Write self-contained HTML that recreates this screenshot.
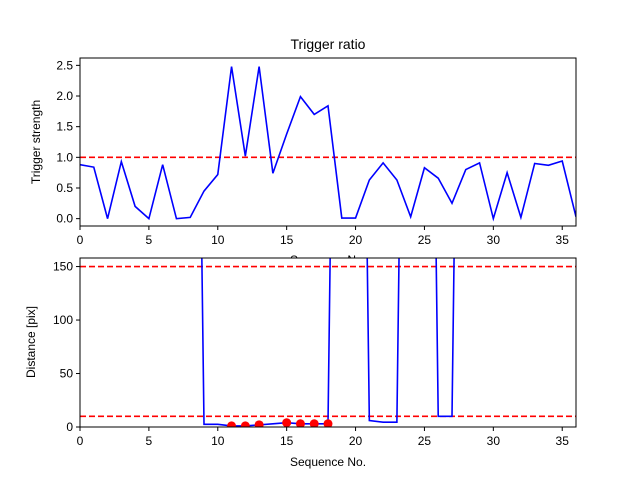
<!DOCTYPE html>
<html><head><meta charset="utf-8"><style>
body{margin:0;background:#fff;}
svg{display:block;font-family:"Liberation Sans","DejaVu Sans",sans-serif;}
</style></head><body>
<svg id="chart" width="640" height="480" xmlns="http://www.w3.org/2000/svg">
<defs><clipPath id="c1"><rect x="80" y="58" width="496" height="168"/></clipPath><clipPath id="c2"><rect x="80" y="258" width="496" height="169"/></clipPath></defs>
</svg>
<script>
const seqNo = [0,1,2,3,4,5,6,7,8,9,10,11,12,13,14,15,16,17,18,19,20,21,22,23,24,25,26,27,28,29,30,31,32,33,34,35,36];
const triggerStrength = [0.88,0.84,0.0,0.93,0.2,0.0,0.88,0.0,0.02,0.45,0.72,2.48,1.02,2.48,0.74,1.38,1.99,1.7,1.84,0.01,0.01,0.63,0.91,0.63,0.03,0.83,0.66,0.25,0.8,0.91,0.0,0.75,0.02,0.9,0.87,0.94,0.03];
const distance = [1000,1000,1000,1000,1000,1000,1000,1000,1000,2.5,2.5,1,1,2,3,4,3,3,3,1000,1000,6,4.5,4.5,1000,1000,10,10,1000,1000,1000,1000,1000,1000,1000,1000,1000];
const triggerThreshold = [1.0];
const distThresholds = [150, 10];
const xTicks = [0,5,10,15,20,25,30,35];
const topYTicks = [0.0,0.5,1.0,1.5,2.0,2.5];
const botYTicks = [0,50,100,150];

const svgEl = document.getElementById('chart');
const NS = 'http://www.w3.org/2000/svg';
function mk(tag, attrs, parent){const e=document.createElementNS(NS,tag);for(const k in attrs)e.setAttribute(k,attrs[k]);(parent||svgEl).appendChild(e);return e;}

const L=80,R=576;
const xs = v => L + (v-0)/(36-0)*(R-L);
const axTopBox = {t:58,b:226,min:-0.12,max:2.62};
const axBotBox = {t:258,b:427,min:0,max:158};
const yTop = v => axTopBox.b - (v-axTopBox.min)/(axTopBox.max-axTopBox.min)*(axTopBox.b-axTopBox.t);
const yBot = v => axBotBox.b - (v-axBotBox.min)/(axBotBox.max-axBotBox.min)*(axBotBox.b-axBotBox.t);

function axes(ax, yf, yticks, fmt, name){
  for(const t of xTicks){
    const l=mk('line',{x1:xs(t),x2:xs(t),y1:ax.b,y2:ax.b+4,stroke:'#000'});
    
    
    const tx=mk('text',{x:xs(t),y:ax.b+18,'text-anchor':'middle','font-size':'12'});
    tx.textContent=t;
    
    
  }
  for(const t of yticks){
    const l=mk('line',{x1:L-4,x2:L,y1:yf(t),y2:yf(t),stroke:'#000'});
    
    
    const tx=mk('text',{x:L-7,y:yf(t)+4,'text-anchor':'end','font-size':'12'});
    tx.textContent=fmt(t);
    
    
  }
}
function frame(ax,name){
  const r=mk('rect',{x:L,y:ax.t,width:R-L,height:ax.b-ax.t,fill:'none',stroke:'#000','stroke-width':1});
  
  
}

const g1=mk('g',{'clip-path':'url(#c1)'});


for(const th of triggerThreshold){
  const l=mk('line',{x1:L,x2:R,y1:yTop(th),y2:yTop(th),stroke:'#f00','stroke-width':1.6,'stroke-dasharray':'6,3'},g1);
  
  
}
const p1=mk('polyline',{points:seqNo.map((s,i)=>xs(s)+','+yTop(triggerStrength[i])).join(' '),fill:'none',stroke:'#00f','stroke-width':1.6},g1);


axes(axTopBox,yTop,topYTicks,v=>v.toFixed(1),'top');
let tt=mk('text',{x:L+(R-L)/2,y:264,'text-anchor':'middle','font-size':'12'});tt.textContent='Sequence No.';



const bg=mk('rect',{x:L,y:axBotBox.t,width:R-L,height:axBotBox.b-axBotBox.t,fill:'#fff'});


const g2=mk('g',{'clip-path':'url(#c2)'});


for(const th of distThresholds){
  const l=mk('line',{x1:L,x2:R,y1:yBot(th),y2:yBot(th),stroke:'#f00','stroke-width':1.6,'stroke-dasharray':'6,3'},g2);
  
  
}
const p2=mk('polyline',{points:seqNo.map((s,i)=>xs(s)+','+yBot(distance[i])).join(' '),fill:'none',stroke:'#00f','stroke-width':1.6},g2);


seqNo.forEach((s,i)=>{
  if(triggerStrength[i]>triggerThreshold[0]){
    const c=mk('circle',{cx:xs(s),cy:yBot(distance[i]),r:4.5,fill:'#f00'},g2);
    
    
  }
});
axes(axBotBox,yBot,botYTicks,v=>String(v),'bottom');
frame(axTopBox,'top');
frame(axBotBox,'bottom');

tt=mk('text',{x:L+(R-L)/2,y:466,'text-anchor':'middle','font-size':'12'});tt.textContent='Sequence No.';


tt=mk('text',{x:328,y:49,'text-anchor':'middle','font-size':'14'});tt.textContent='Trigger ratio';


tt=mk('text',{x:0,y:0,'text-anchor':'middle','font-size':'12',transform:'translate(40,142) rotate(-90)'});tt.textContent='Trigger strength';


tt=mk('text',{x:0,y:0,'text-anchor':'middle','font-size':'12',transform:'translate(35,342) rotate(-90)'});tt.textContent='Distance [pix]';


</script>
</body></html>
